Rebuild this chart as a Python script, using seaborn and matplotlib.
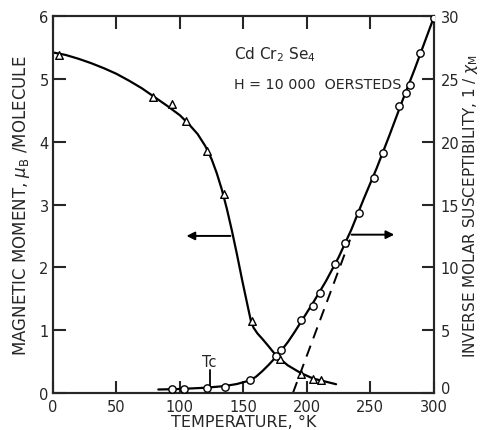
import numpy as np
import pandas as pd
import seaborn as sns
import matplotlib.pyplot as plt

# measured points: magnetic moment (triangles, left axis)
tri_T = [4.7, 78.7, 93.6, 104.6, 121, 134.8, 156.4, 178.7, 195.3, 204.7, 211]
tri_M = [5.38, 4.71, 4.60, 4.33, 3.85, 3.17, 1.14, 0.54, 0.31, 0.22, 0.21]

# measured points: inverse molar susceptibility (circles, right axis)
circ_T = [93.4, 103.4, 121, 135.4, 155, 175.6, 179.5, 195, 205, 210.2, 222, 230,
          241.2, 252.8, 259.6, 272.4, 278, 281.6, 289, 300]
circ_X = [0.32, 0.32, 0.40, 0.50, 1.0, 2.92, 3.45, 5.8, 6.95, 7.93, 10.3, 11.9,
          14.3, 17.1, 19.07, 22.8, 23.9, 24.5, 27.05, 29.8]

# hand-drawn curves
mom_curve_T = [0, 10, 20, 30, 40, 50, 60, 70, 80, 90, 100, 107, 114, 120, 125,
               129, 133, 137, 141, 145, 149, 153, 156, 158, 161, 165, 170, 176,
               185, 195, 205, 215, 223]
mom_curve_M = [5.42, 5.38, 5.32, 5.25, 5.17, 5.08, 4.97, 4.85, 4.71, 4.57, 4.42,
               4.28, 4.12, 3.93, 3.72, 3.50, 3.24, 2.93, 2.58, 2.20, 1.80, 1.42,
               1.14, 1.04, 0.95, 0.86, 0.74, 0.59, 0.44, 0.32, 0.23, 0.18, 0.14]
sus_curve_T = [83, 100, 120, 135, 145, 155, 160, 165, 170, 175, 180, 185, 190,
               195, 205, 215, 225, 235, 245, 255, 265, 275, 285, 300]
sus_curve_X = [0.28, 0.32, 0.42, 0.55, 0.72, 1.0, 1.3, 1.75, 2.25, 2.8, 3.4, 4.05,
               4.8, 5.6, 7.2, 8.9, 10.8, 13.0, 15.5, 17.9, 20.5, 23.2, 25.8, 29.9]

# Curie-Weiss extrapolation (dashed)
dash_T = [189, 234]
dash_X = [0.0, 12.2]

sns.set_style("ticks")
plt.rcParams['font.family'] = ['DejaVu Sans']
plt.rcParams['mathtext.fontset'] = 'dejavusans'

fig = plt.figure(figsize=(4.81, 4.31), dpi=100)
ax = fig.add_axes([0.110, 0.0858, 0.792, 0.8748])
ax2 = ax.twinx()

sns.lineplot(x=mom_curve_T, y=mom_curve_M, ax=ax, color='black', lw=1.6, sort=False)
sns.scatterplot(x=tri_T, y=tri_M, ax=ax, marker='^', s=30, facecolor='white',
                edgecolor='black', linewidth=1.0, zorder=5)

sns.lineplot(x=sus_curve_T, y=sus_curve_X, ax=ax2, color='black', lw=1.6, sort=False)
sns.lineplot(x=dash_T, y=dash_X, ax=ax2, color='black', lw=1.4, linestyle=(0, (6, 4)))
sns.scatterplot(x=circ_T, y=circ_X, ax=ax2, marker='o', s=28, facecolor='white',
                edgecolor='black', linewidth=1.0, zorder=5)

ax.set_xlim(0, 300)
ax.set_ylim(0, 6)
ax2.set_ylim(0, 30)
ax.set_xticks(range(0, 301, 50))
ax.set_yticks(range(0, 7))
ax2.set_yticks(range(0, 31, 5))

for a in (ax, ax2):
    for s in a.spines.values():
        s.set_linewidth(1.5)
    a.tick_params(direction='in', length=9, width=1.5, labelsize=10.5, pad=3)
ax.tick_params(axis='x', top=True, pad=4.5)
ax.tick_params(axis='y', right=False)
ax2.tick_params(axis='y', pad=5)
# the right-hand "0" sits just above the corner, clear of "300"
ax2.get_yticklabels()[0].set_verticalalignment('baseline')

ax.set_xlabel('TEMPERATURE, °K', fontsize=11.5, labelpad=0)
ax.set_ylabel(r'MAGNETIC MOMENT, $\mu_{\rm B}$ /MOLECULE', fontsize=12, labelpad=5)
ax2.set_ylabel(r'INVERSE MOLAR SUSCEPTIBILITY, 1 / $\chi_{\rm M}$', fontsize=11, labelpad=1)

ax.text(143, 5.4, r'Cd Cr$_2$ Se$_4$', fontsize=11, va='center')
ax.text(143, 4.92, 'H = 10 000  OERSTEDS', fontsize=10.3, va='center')

ax.annotate('', xy=(103, 2.5), xytext=(142, 2.5),
            arrowprops=dict(arrowstyle='-|>', color='black', lw=1.4, mutation_scale=12))
ax.annotate('', xy=(271, 2.52), xytext=(233, 2.52),
            arrowprops=dict(arrowstyle='-|>', color='black', lw=1.4, mutation_scale=12))

ax2.plot([123.5, 123.5], [0.45, 1.8], color='black', lw=1.3)
ax2.text(123.5, 1.9, 'Tc', fontsize=10.5, ha='center', va='bottom')

fig.savefig('out.png', dpi=100)
